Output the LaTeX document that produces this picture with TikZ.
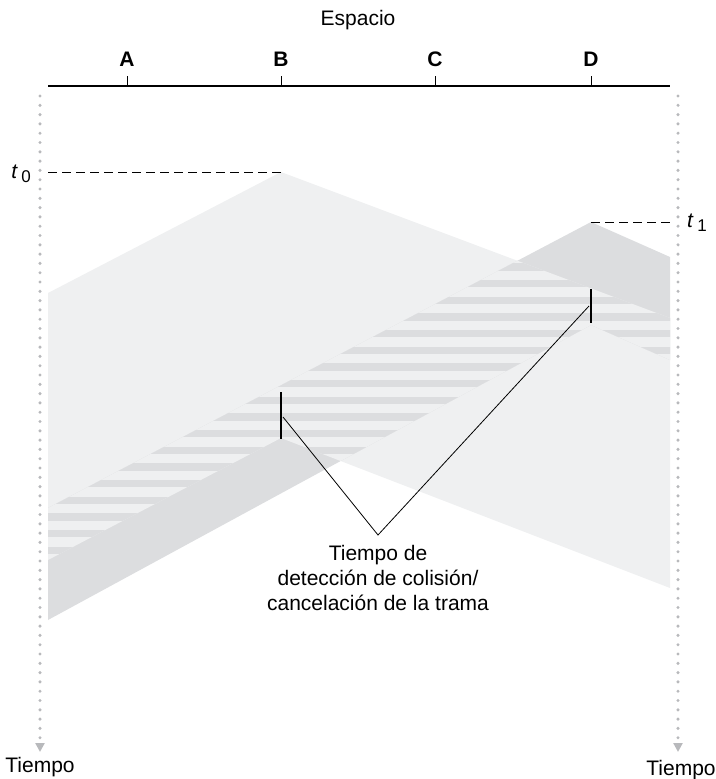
\documentclass[tikz,border=0pt]{standalone}
\usepackage{fontspec}
\setmainfont{Liberation Sans}
\usetikzlibrary{arrows.meta}
\definecolor{sigB}{HTML}{EFF0F1}
\definecolor{sigD}{HTML}{DCDDDF}
\definecolor{timegray}{HTML}{B8B9BC}

\begin{document}
\begin{tikzpicture}[x=1bp,y=-1bp,
  txt/.style={font=\fontsize{21bp}{25bp}\selectfont,inner sep=0pt},
  stn/.style={font=\fontsize{21bp}{25bp}\selectfont\bfseries,inner sep=0pt,anchor=base},
  axis/.style={line width=2.2bp},
  timeline/.style={timegray,line width=3.4bp,line cap=round,
    dash pattern=on 0bp off 9.3bp,-{Triangle[width=9bp,length=9bp]}},
  tmark/.style={line width=1bp,dash pattern=on 9bp off 5bp},
  bar/.style={line width=2bp},
  leader/.style={line width=.8bp},
  pathB/.style={insert path={(281,172) -- (670,318) -- (670,588) -- (281,438)
    -- (48,560) -- (48,293) -- cycle}},
  pathD/.style={insert path={(591,222) -- (670,257) -- (670,360) -- (591,325)
    -- (48,620) -- (48,508) -- cycle}}
]
\useasboundingbox (0,0) rectangle (716,779);

% frames of B and D
\fill[sigB,pathB];
\fill[sigD,pathD];
\begin{scope}
  \clip[pathB];
  \clip[pathD];
  \fill[sigB] (40,200) rectangle (680,640);
  \foreach \k in {-1,...,22}
    \fill[sigD] (40,{263.3+16.67*\k}) rectangle (680,{270.6+16.67*\k});
\end{scope}

% space axis
\node[txt,anchor=base] (espacio) at (358,26) {Espacio};
\coordinate (axL) at (48,86);
\coordinate (axR) at (670,86);
\draw[axis] (axL) -- (axR);
\foreach \n/\x in {A/127,B/281,C/435,D/591} {
  \coordinate (tick\n) at (\x,86);
  \draw[line width=1bp] (tick\n) -- ++(0,-10);
  \node[stn] (lab\n) at (\x,67) {\n};
}

% time axes
\coordinate (leftTop) at (40,96);
\coordinate (leftEnd) at (40,752);
\coordinate (rightTop) at (678,96);
\coordinate (rightEnd) at (678,752);
\draw[timeline] (leftTop) -- (leftEnd);
\draw[timeline] (rightTop) -- (rightEnd);
\node[txt,anchor=base] (tiempoL) at (40,772) {Tiempo};
\node[txt,anchor=base] (tiempoR) at (681,775) {Tiempo};

% start times
\node[txt,anchor=base east] (t0) at (31,178)
  {\textit{t}\,\raisebox{-4bp}{\fontsize{17bp}{17bp}\selectfont 0}};
\node[txt,anchor=base west] (t1) at (687,227)
  {\textit{t}\,\raisebox{-4bp}{\fontsize{17bp}{17bp}\selectfont 1}};
\coordinate (startB) at (281,172);
\coordinate (startD) at (591,222);
\coordinate (t0end) at (48,172);
\coordinate (t1end) at (670,222);
\draw[tmark] (t0end) -- (startB);
\draw[tmark] (startD) -- (t1end);

% collision detected
\coordinate (bTop) at (281,392);
\coordinate (bBot) at (281,439);
\coordinate (dTop) at (591,289);
\coordinate (dBot) at (591,323);
\draw[bar] (bTop) -- (bBot);
\draw[bar] (dTop) -- (dBot);
\node[txt,align=center,anchor=north] (note) at (378,545)
  {Tiempo de\\detección de colisión/\\cancelación de la trama};
\coordinate (bHit) at (283,417);
\coordinate (dHit) at (589,306);
\coordinate (meet) at (378,535);
\draw[leader] (bHit) -- (meet) -- (dHit);
\end{tikzpicture}
\end{document}
